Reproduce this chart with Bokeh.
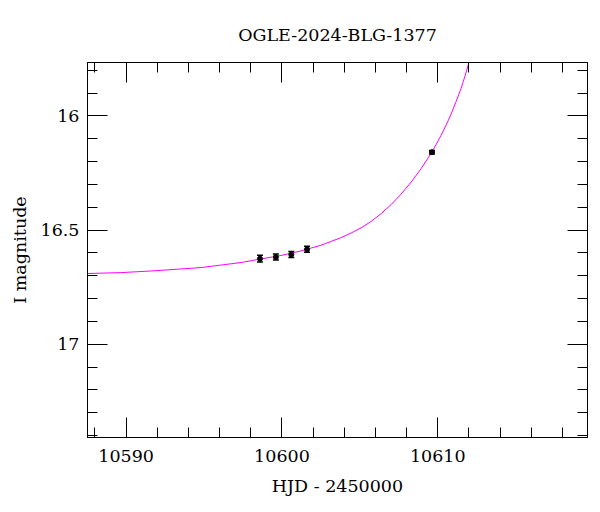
from bokeh.plotting import figure
from bokeh.models import (Range1d, LinearAxis, SingleIntervalTicker, CustomJSTickFormatter,
                          Whisker, ColumnDataSource, TeeHead)
from bokeh.embed import file_html
from bokeh.resources import INLINE

# Observations (HJD - 2450000, I mag, error)
obs_hjd = [10598.59, 10599.61, 10600.60, 10601.61, 10609.63]
obs_mag = [16.625, 16.618, 16.607, 16.584, 16.159]
obs_err = [0.015, 0.013, 0.013, 0.013, 0.008]

# Model curve
model_hjd = [10587.54, 10589.66, 10591.59, 10593.51, 10594.80, 10596.08, 10597.37,
             10598.65, 10599.94, 10601.22, 10602.51, 10603.79, 10604.43, 10605.08,
             10605.72, 10606.36, 10607.01, 10607.65, 10608.29, 10608.93, 10609.57,
             10609.89, 10610.21, 10610.53, 10610.85, 10611.17, 10611.50, 10611.75,
             10612.01]
model_mag = [16.690, 16.686, 16.679, 16.670, 16.664, 16.653, 16.642,
             16.626, 16.611, 16.591, 16.566, 16.533, 16.513, 16.490,
             16.462, 16.428, 16.388, 16.342, 16.290, 16.231, 16.164,
             16.126, 16.085, 16.041, 15.993, 15.938, 15.879, 15.825,
             15.764]

TITLE = "OGLE-2024-BLG-1377"
X_MIN, X_MAX = 10587.52, 10619.61
Y_FAINT, Y_BRIGHT = 17.408, 15.766

FONT = "DejaVu Serif"
FS = "17.5px"

p = figure(width=600, height=512, output_backend="svg", toolbar_location=None,
           x_range=Range1d(X_MIN, X_MAX), y_range=Range1d(Y_FAINT, Y_BRIGHT),
           x_axis_location=None, y_axis_location=None,
           min_border_left=87, min_border_right=13, min_border_top=62, min_border_bottom=75)

p.grid.visible = False
p.outline_line_color = "black"
p.outline_line_width = 1
p.background_fill_color = "white"
p.border_fill_color = "white"

fmt = CustomJSTickFormatter(code="return String(Number(tick.toFixed(3)));")
blank = CustomJSTickFormatter(code="return '';")

def mk_axis(kind, labels):
    if kind == "x":
        tk = SingleIntervalTicker(interval=10, num_minor_ticks=5)
    else:
        tk = SingleIntervalTicker(interval=0.5, num_minor_ticks=5)
    ax = LinearAxis(ticker=tk, formatter=fmt if labels else blank)
    ax.major_tick_in = 20
    ax.major_tick_out = 0
    ax.minor_tick_in = 10
    ax.minor_tick_out = 0
    ax.axis_line_color = "black"
    ax.major_tick_line_color = "black"
    ax.minor_tick_line_color = "black"
    ax.major_label_text_font = FONT
    ax.major_label_text_font_size = FS
    ax.major_label_text_color = "black"
    ax.major_label_standoff = 9 if labels else 0
    ax.axis_label_text_font = FONT
    ax.axis_label_text_font_size = FS
    ax.axis_label_text_font_style = "normal"
    ax.axis_label_text_color = "black"
    return ax

bx = mk_axis("x", True)
bx.axis_label = "HJD - 2450000"
bx.major_label_standoff = 12
bx.axis_label_standoff = 11
p.add_layout(bx, "below")

# top axis: ticks only, carries the title as its label
tx = mk_axis("x", False)
tx.axis_label = TITLE
tx.axis_label_standoff = 18
p.add_layout(tx, "above")

ly = mk_axis("y", True)
ly.axis_label = "I magnitude"
ly.axis_label_standoff = 8
ly.major_label_standoff = 8
p.add_layout(ly, "left")
ry = mk_axis("y", False)
p.add_layout(ry, "right")

p.line(model_hjd, model_mag, line_color="magenta", line_width=1)

src = ColumnDataSource(dict(x=obs_hjd, y=obs_mag,
                            lo=[m - e for m, e in zip(obs_mag, obs_err)],
                            hi=[m + e for m, e in zip(obs_mag, obs_err)]))
w = Whisker(source=src, base="x", lower="lo", upper="hi", line_color="black", line_width=1.5,
            upper_head=TeeHead(size=6, line_color="black", line_width=1.5),
            lower_head=TeeHead(size=6, line_color="black", line_width=1.5))
p.add_layout(w)
p.scatter("x", "y", source=src, size=5, color="black")

open("out.html", "w").write(file_html(p, INLINE))
